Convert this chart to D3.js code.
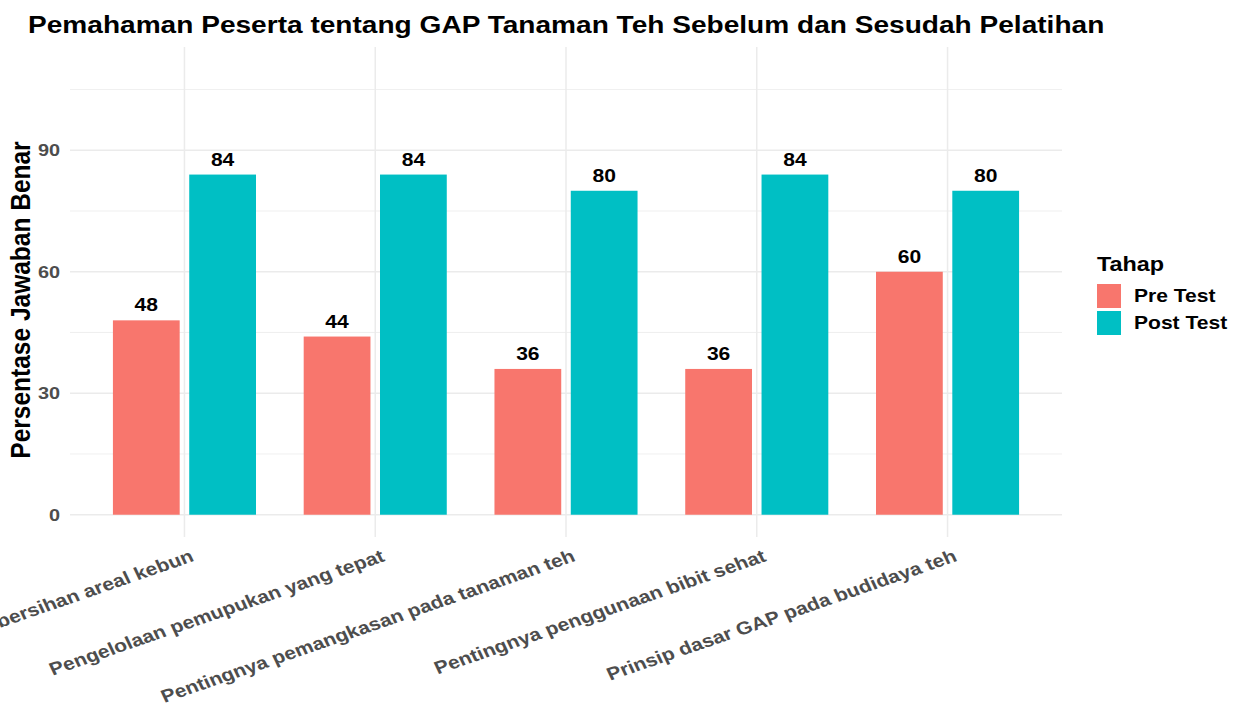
<!DOCTYPE html>
<html>
<head>
<meta charset="utf-8">
<script src="https://cdn.jsdelivr.net/npm/d3@7"></script>
<style>
  body { margin: 0; background: #fff; }
  svg { font-family: "Liberation Sans", Arial, sans-serif; }
</style>
</head>
<body>
<div id="chart"></div>
<script>
// Data
const categories = [
    "Kebersihan areal kebun",
    "Pengelolaan pemupukan yang tepat",
    "Pentingnya pemangkasan pada tanaman teh",
    "Pentingnya penggunaan bibit sehat",
    "Prinsip dasar GAP pada budidaya teh"
];
const stages = ["Pre Test", "Post Test"];
const preTest = [48, 44, 36, 36, 60];
const postTest = [84, 84, 80, 84, 80];
const yTicks = [0, 30, 60, 90];
const yMinorTicks = [15, 45, 75, 105];
const colors = ["#F8766D", "#00BFC4"];

const width = 1242, height = 713;
const panel = { left: 70, right: 1062, top: 47, bottom: 537 };
const sx = 1.17;   // the reference picture is stretched horizontally

const svg = d3.select("#chart").append("svg")
    .attr("width", width)
    .attr("height", height);

// Scales (discrete axis with ggplot-like 0.6 expansion)
const step = (panel.right - panel.left) / (categories.length - 1 + 1.2);
const x = d3.scalePoint()
    .domain(categories)
    .range([panel.left + 0.6 * step, panel.right - 0.6 * step]);

const y = d3.scaleLinear()
    .domain([-5.5, 115.5])
    .range([panel.bottom, panel.top]);

const grid = svg.append("g");

// Minor gridlines
grid.selectAll("line.minor")
    .data(yMinorTicks)
    .join("line")
    .attr("class", "minor")
    .attr("x1", panel.left).attr("x2", panel.right)
    .attr("y1", d => y(d)).attr("y2", d => y(d))
    .attr("stroke", "#ebebeb")
    .attr("stroke-width", 0.8);

// Major gridlines
grid.selectAll("line.major")
    .data(yTicks)
    .join("line")
    .attr("class", "major")
    .attr("x1", panel.left).attr("x2", panel.right)
    .attr("y1", d => y(d)).attr("y2", d => y(d))
    .attr("stroke", "#ebebeb")
    .attr("stroke-width", 1.5);

grid.selectAll("line.vert")
    .data(categories)
    .join("line")
    .attr("class", "vert")
    .attr("x1", d => x(d)).attr("x2", d => x(d))
    .attr("y1", panel.top).attr("y2", panel.bottom)
    .attr("stroke", "#ebebeb")
    .attr("stroke-width", 1.5);

// Bars: dodge width 0.8, bar width 0.7 -> each bar 0.35 units
const barW = 0.35 * step;
const offsets = [-0.2 * step, 0.2 * step];
const series = [preTest, postTest];

const bars = svg.append("g");
series.forEach((vals, s) => {
    const rows = categories.map((c, i) => ({ cat: c, value: vals[i] }));
    bars.selectAll(`rect.s${s}`)
        .data(rows)
        .join("rect")
        .attr("class", `s${s}`)
        .attr("x", d => x(d.cat) + offsets[s] - barW / 2)
        .attr("width", barW)
        .attr("y", d => y(d.value))
        .attr("height", d => y(0) - y(d.value))
        .attr("fill", colors[s]);

    bars.selectAll(`text.s${s}`)
        .data(rows)
        .join("text")
        .attr("class", `s${s}`)
        .attr("transform", d => `translate(${x(d.cat) + offsets[s]},${y(d.value) - 9}) scale(${sx},1)`)
        .attr("text-anchor", "middle")
        .attr("font-size", 18)
        .attr("font-weight", "bold")
        .attr("fill", "#000")
        .text(d => d.value);
});

// Y axis tick labels
svg.append("g")
    .selectAll("text")
    .data(yTicks)
    .join("text")
    .attr("transform", d => `translate(60,${y(d)}) scale(${sx},1)`)
    .attr("dy", "0.35em")
    .attr("text-anchor", "end")
    .attr("font-size", 17)
    .attr("font-weight", "bold")
    .attr("fill", "#4d4d4d")
    .text(d => d);

// X axis tick labels, rotated (the first one runs off the left edge, as in the reference)
svg.append("g")
    .selectAll("text")
    .data(categories)
    .join("text")
    .attr("transform", d => `translate(${x(d) + 5},${panel.bottom + 12}) scale(${sx},1) rotate(-22)`)
    .attr("text-anchor", "end")
    .attr("dy", "0.7em")
    .attr("font-size", 18)
    .attr("font-weight", "bold")
    .attr("fill", "#4d4d4d")
    .text(d => d);

// Y axis title
svg.append("text")
    .attr("transform", `translate(30,${(panel.top + panel.bottom) / 2 + 8}) scale(1.1,1) rotate(-90)`)
    .attr("text-anchor", "middle")
    .attr("font-size", 24.5)
    .attr("font-weight", "bold")
    .attr("fill", "#000")
    .text("Persentase Jawaban Benar");

// Title
svg.append("text")
    .attr("transform", `translate(28,33) scale(${sx},1)`)
    .attr("font-size", 24)
    .attr("font-weight", "bold")
    .attr("fill", "#000")
    .text("Pemahaman Peserta tentang GAP Tanaman Teh Sebelum dan Sesudah Pelatihan");

// Legend
const legend = svg.append("g").attr("transform", "translate(1097,252)");
legend.append("text")
    .attr("transform", `translate(0,19) scale(${sx},1)`)
    .attr("font-size", 20)
    .attr("font-weight", "bold")
    .attr("fill", "#000")
    .text("Tahap");

legend.selectAll("rect")
    .data(stages)
    .join("rect")
    .attr("x", 0)
    .attr("y", (d, i) => 32 + i * 27)
    .attr("width", 24)
    .attr("height", 24)
    .attr("fill", (d, i) => colors[i]);

legend.selectAll("text.key")
    .data(stages)
    .join("text")
    .attr("class", "key")
    .attr("transform", (d, i) => `translate(37,${44 + i * 27}) scale(${sx},1)`)
    .attr("dy", "0.35em")
    .attr("font-size", 18)
    .attr("font-weight", "bold")
    .attr("fill", "#000")
    .text(d => d);
</script>
</body>
</html>
